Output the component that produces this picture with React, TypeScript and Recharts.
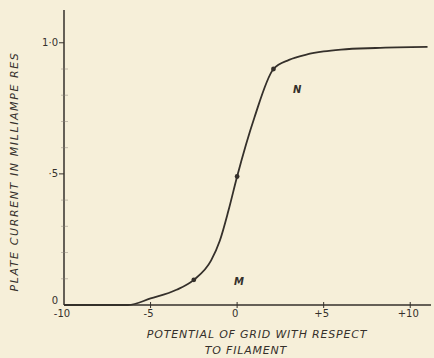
import React from 'react';
import { LineChart, Line, XAxis, YAxis } from 'recharts';

// grid potential (volts) vs plate current (milliamperes)
const gridVolts = [-10, -6.3, -5, -3.5, -2.5, -1.5, -1, -0.5, 0, 1, 2.1, 3, 4, 5, 6, 8, 11];
const plateCurrent = [0, 0, 0.025, 0.058, 0.096, 0.17, 0.245, 0.36, 0.49, 0.715, 0.9, 0.935, 0.955, 0.967, 0.974, 0.98, 0.984];
// points marked on the curve
const markedVolts = [-2.5, 0, 2.1];

const xTicks = [-10, -5, 0, 5, 10];
const xTickLabels = ['-10', '-5', '0', '+5', '+10'];
const yTicks = [0, 0.1, 0.2, 0.3, 0.4, 0.5, 0.6, 0.7, 0.8, 0.9, 1.0];
const yTickLabels: Record<string, string> = { '0': '0', '0.5': '·5', '1': '1·0' };

const data = gridVolts.map((x, i) => ({ x, y: plateCurrent[i] }));

const INK = '#35302b';
const PAPER = '#f6efd9';
const FONT = '"DejaVu Sans", sans-serif';

const XTick = (props: any) => {
  const { x, y, index } = props;
  return (
    <g>
      {index > 0 && <line x1={x} x2={x} y1={y - 3} y2={y + 3} stroke={INK} strokeWidth={1} />}
      <text x={x - 2} y={y + 12} textAnchor="middle" fontSize={10} fontFamily={FONT} fill={INK}>
        {xTickLabels[index]}
      </text>
    </g>
  );
};

const YTick = (props: any) => {
  const { x, y, payload } = props;
  const label = yTickLabels[String(payload.value)];
  return (
    <g>
      {label && payload.value > 0 ? (
        <line x1={x - 5} x2={x} y1={y} y2={y} stroke={INK} strokeWidth={1} />
      ) : payload.value > 0 ? (
        <line x1={x - 3} x2={x + 4} y1={y} y2={y} stroke="#8a8278" strokeWidth={0.8} opacity={0.6} />
      ) : null}
      {label && (
        <text x={x - 6} y={y + (payload.value === 0 ? -1 : 3)} textAnchor="end" fontSize={10} fontFamily={FONT} fill={INK}>
          {label}
        </text>
      )}
    </g>
  );
};

const MarkDot = (props: any) => {
  const { cx, cy, payload, index } = props;
  if (!markedVolts.includes(payload.x)) return <g key={`d-${index}`} />;
  return <circle key={`d-${index}`} cx={cx} cy={cy} r={2.4} fill={INK} />;
};

const textStyle: React.CSSProperties = {
  position: 'absolute',
  fontFamily: FONT,
  fontStyle: 'italic',
  fontSize: 11,
  color: INK,
  whiteSpace: 'nowrap',
  textAlign: 'center',
};

export default function App() {
  return (
    <div style={{ position: 'absolute', left: 0, top: 0, width: 434, height: 358, background: PAPER, overflow: 'hidden' }}>
      <LineChart width={434} height={358} data={data} margin={{ top: 10, right: 3, left: 0, bottom: 0 }}>
        <XAxis
          type="number"
          dataKey="x"
          domain={[-10, 11.2]}
          ticks={xTicks}
          allowDataOverflow
          height={53}
          tickSize={0}
          tickMargin={0}
          tickLine={false}
          axisLine={{ stroke: INK, strokeWidth: 1.5 }}
          tick={<XTick />}
          interval={0}
        />
        <YAxis
          type="number"
          domain={[0, 1.125]}
          ticks={yTicks}
          width={64}
          tickSize={0}
          tickMargin={0}
          tickLine={false}
          axisLine={{ stroke: INK, strokeWidth: 1.5 }}
          tick={<YTick />}
          interval={0}
        />
        <Line
          type="monotone"
          dataKey="y"
          stroke={INK}
          strokeWidth={1.8}
          dot={<MarkDot />}
          activeDot={false}
          isAnimationActive={false}
        />
      </LineChart>

      <div style={{ ...textStyle, left: 14 - 150, top: 172 - 7, width: 300, letterSpacing: 1.6, transform: 'rotate(-90deg)' }}>
        PLATE CURRENT IN MILLIAMPE RES
      </div>
      <div style={{ ...textStyle, left: 257 - 160, top: 328, width: 320, letterSpacing: 0.8 }}>
        POTENTIAL OF GRID WITH RESPECT
      </div>
      <div style={{ ...textStyle, left: 246 - 80, top: 344, width: 160, letterSpacing: 0.8 }}>
        TO FILAMENT
      </div>
      <div style={{ ...textStyle, left: 234, top: 276, fontSize: 10, fontWeight: 'bold' }}>M</div>
      <div style={{ ...textStyle, left: 293, top: 84, fontSize: 10, fontWeight: 'bold' }}>N</div>
    </div>
  );
}
